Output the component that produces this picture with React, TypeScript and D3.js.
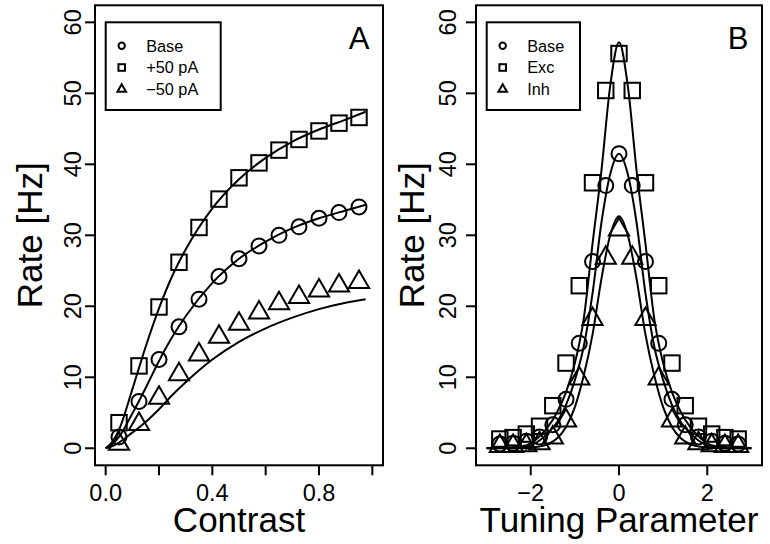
import React from "react";
import * as d3 from "d3";

// ---------- Panel A data ----------
const contrastPts = [0.05, 0.125, 0.2, 0.275, 0.35, 0.425, 0.5, 0.575, 0.65, 0.725, 0.8, 0.875, 0.95];
const baseA = [1.6, 6.6, 12.5, 17.1, 21.0, 24.2, 26.7, 28.5, 30.0, 31.2, 32.4, 33.2, 34.0];
const excA = [3.6, 11.6, 19.9, 26.2, 31.1, 35.1, 38.1, 40.2, 42.0, 43.5, 44.7, 45.8, 46.6];
const inhA = [0.6, 3.4, 7.1, 10.4, 13.2, 15.7, 17.5, 19.1, 20.4, 21.3, 22.2, 22.9, 23.4];

const contrastLine = [0, 0.025, 0.05, 0.1, 0.15, 0.2, 0.25, 0.3, 0.4, 0.5, 0.6, 0.7, 0.8, 0.9, 0.975];
const baseLineA = [0, 0.6, 1.6, 4.9, 8.5, 12.3, 15.7, 18.6, 23.3, 26.7, 29.1, 31.0, 32.4, 33.5, 34.3];
const excLineA = [0, 0.9, 2.6, 8.3, 14.3, 19.7, 24.3, 28.0, 33.8, 37.9, 40.9, 43.2, 44.9, 46.3, 47.4];
const inhLineA = [0, 0.3, 0.8, 2.2, 3.7, 5.5, 7.5, 9.3, 12.5, 15.0, 16.9, 18.4, 19.6, 20.5, 21.0];

const xTicksA = [0, 0.2, 0.4, 0.6, 0.8, 1.0];
const xLabelsA = ["0.0", "", "0.4", "", "0.8", ""];
const legendA = ["Base", "+50 pA", "\u221250 pA"];

// ---------- Panel B data ----------
const tuningPts = [-2.7, -2.4, -2.1, -1.8, -1.5, -1.2, -0.9, -0.6, -0.3, 0, 0.3, 0.6, 0.9, 1.2, 1.5, 1.8, 2.1, 2.4, 2.7];
const baseB = [0.6, 0.7, 1.0, 1.6, 3.3, 6.9, 14.8, 26.3, 37.0, 41.5, 37.0, 26.3, 14.8, 6.9, 3.3, 1.6, 1.0, 0.7, 0.6];
const excB = [1.3, 1.5, 2.0, 3.1, 6.0, 12.0, 22.9, 37.4, 50.4, 55.6, 50.4, 37.4, 22.9, 12.0, 6.0, 3.1, 2.0, 1.5, 1.3];
const inhB = [0.3, 0.3, 0.4, 0.7, 1.5, 3.9, 9.8, 18.2, 26.8, 30.8, 26.8, 18.2, 9.8, 3.9, 1.5, 0.7, 0.4, 0.3, 0.3];

const tuningLine = [-3, -2.6, -2.2, -2.0, -1.8, -1.6, -1.4, -1.2, -1.0, -0.8, -0.6, -0.4, -0.2, 0, 0.2, 0.4, 0.6, 0.8, 1.0, 1.2, 1.4, 1.6, 1.8, 2.0, 2.2, 2.6, 3];
const excLineB = [0.05, 0.1, 0.3, 0.7, 1.7, 3.1, 5.1, 7.9, 12.0, 18.2, 28.8, 39.0, 51.0, 57.2, 51.0, 39.0, 28.8, 18.2, 12.0, 7.9, 5.1, 3.1, 1.7, 0.7, 0.3, 0.1, 0.05];
const baseLineB = [0, 0.05, 0.15, 0.4, 1.1, 2.2, 3.7, 6.1, 9.6, 14.3, 21.8, 31.7, 38.6, 41.5, 38.6, 31.7, 21.8, 14.3, 9.6, 6.1, 3.7, 2.2, 1.1, 0.4, 0.15, 0.05, 0];
const inhLineB = [0, 0, 0.05, 0.1, 0.25, 0.6, 1.4, 3.0, 5.8, 10.2, 16.0, 23.8, 30.0, 32.7, 30.0, 23.8, 16.0, 10.2, 5.8, 3.0, 1.4, 0.6, 0.25, 0.1, 0.05, 0, 0];

const xTicksB = [-2, 0, 2];
const xLabelsB = ["\u22122", "0", "2"];
const legendB = ["Base", "Exc", "Inh"];

const yTicks = [0, 10, 20, 30, 40, 50, 60];

const FONT = "'Liberation Sans', Arial, Helvetica, sans-serif";
const SW = 2;
const TICK_FS = 23.5;

type Shape = "circle" | "square" | "triangle";

function Marker({ shape, x, y, r }: { shape: Shape; x: number; y: number; r: number }) {
  if (shape === "circle") {
    return <circle cx={x} cy={y} r={r} fill="none" stroke="#000" strokeWidth={SW} />;
  }
  if (shape === "square") {
    const h = r * 1.03;
    return <rect x={x - h} y={y - h} width={2 * h} height={2 * h} fill="none" stroke="#000" strokeWidth={SW} />;
  }
  const top = y - 1.555 * r;
  const bot = y + 0.778 * r;
  const hw = 1.3468 * r;
  return (
    <path
      d={`M${x},${top}L${x + hw},${bot}L${x - hw},${bot}Z`}
      fill="none"
      stroke="#000"
      strokeWidth={SW}
      strokeLinejoin="miter"
    />
  );
}

type PanelProps = {
  left: number;
  right: number;
  xDomain: [number, number];
  xTicks: number[];
  xLabels: string[];
  xTitle: string;
  letter: string;
  legend: string[];
  legendWidth: number;
  ptsX: number[];
  series: number[][];
  lineX: number[];
  lines: number[][];
  yTickLabelX: number;
  yTitleX: number;
};

const TOP = 5.3;
const BOTTOM = 465.3;
const shapes: Shape[] = ["circle", "square", "triangle"];

function Panel(p: PanelProps) {
  const x = d3.scaleLinear().domain(p.xDomain).range([p.left, p.right]);
  const y = d3.scaleLinear().domain([-2.4, 62.4]).range([BOTTOM, TOP]);
  const line = d3
    .line<[number, number]>()
    .x((d) => x(d[0]))
    .y((d) => y(d[1]))
    .curve(d3.curveMonotoneX);

  const legX = p.left + 10.7;
  const legY = 22.3;
  const legH = 87.7;
  const rowY = [45.8, 67.5, 89.2];

  return (
    <g>
      {p.lines.map((vals, i) => (
        <path
          key={"l" + i}
          d={line(p.lineX.map((xx, j) => [xx, vals[j]] as [number, number])) || ""}
          fill="none"
          stroke="#000"
          strokeWidth={SW}
        />
      ))}
      {p.series.map((vals, i) =>
        vals.map((v, j) => (
          <Marker key={`p${i}-${j}`} shape={shapes[i]} x={x(p.ptsX[j])} y={y(v)} r={7.5} />
        ))
      )}
      <rect
        x={p.left}
        y={TOP}
        width={p.right - p.left}
        height={BOTTOM - TOP}
        fill="none"
        stroke="#000"
        strokeWidth={SW}
      />
      {yTicks.map((t) => (
        <g key={"y" + t}>
          <line x1={p.left - 10} x2={p.left} y1={y(t)} y2={y(t)} stroke="#000" strokeWidth={SW} />
          <text
            transform={`translate(${p.yTickLabelX},${y(t)}) rotate(-90)`}
            textAnchor="middle"
            fontFamily={FONT}
            fontSize={TICK_FS}
          >
            {t}
          </text>
        </g>
      ))}
      <text
        transform={`translate(${p.yTitleX},${(TOP + BOTTOM) / 2}) rotate(-90)`}
        textAnchor="middle"
        fontFamily={FONT}
        fontSize={35}
      >
        Rate [Hz]
      </text>
      {p.xTicks.map((t, i) => (
        <g key={"x" + t}>
          <line x1={x(t)} x2={x(t)} y1={BOTTOM} y2={BOTTOM + 10} stroke="#000" strokeWidth={SW} />
          {p.xLabels[i] && (
            <text x={x(t)} y={501} textAnchor="middle" fontFamily={FONT} fontSize={TICK_FS}>
              {p.xLabels[i]}
            </text>
          )}
        </g>
      ))}
      <text
        x={(p.left + p.right) / 2}
        y={532}
        textAnchor="middle"
        fontFamily={FONT}
        fontSize={35}
      >
        {p.xTitle}
      </text>
      <text x={p.right - 13.5} y={49} textAnchor="end" fontFamily={FONT} fontSize={31}>
        {p.letter}
      </text>
      <rect x={legX} y={legY} width={p.legendWidth} height={legH} fill="#fff" stroke="#000" strokeWidth={SW} />
      {p.legend.map((lab, i) => (
        <g key={"lg" + i}>
          <Marker shape={shapes[i]} x={legX + 16} y={rowY[i]} r={3.2} />
          <text x={legX + 40.5} y={rowY[i] + 5.9} fontFamily={FONT} fontSize={16.3}>
            {lab}
          </text>
        </g>
      ))}
    </g>
  );
}

export default function App() {
  return (
    <svg
      width={770}
      height={544}
      viewBox="0 0 770 544"
      style={{ position: "absolute", left: 0, top: 0, background: "#fff" }}
    >
      <rect x={0} y={0} width={770} height={544} fill="#fff" />
      <Panel
        left={95}
        right={383}
        xDomain={[-0.04, 1.04]}
        xTicks={xTicksA}
        xLabels={xLabelsA}
        xTitle="Contrast"
        letter="A"
        legend={legendA}
        legendWidth={115}
        ptsX={contrastPts}
        series={[baseA, excA, inhA]}
        lineX={contrastLine}
        lines={[baseLineA, excLineA, inhLineA]}
        yTickLabelX={80.5}
        yTitleX={42}
      />
      <Panel
        left={476}
        right={762}
        xDomain={[-3.24, 3.24]}
        xTicks={xTicksB}
        xLabels={xLabelsB}
        xTitle="Tuning Parameter"
        letter="B"
        legend={legendB}
        legendWidth={93.3}
        ptsX={tuningPts}
        series={[baseB, excB, inhB]}
        lineX={tuningLine}
        lines={[baseLineB, excLineB, inhLineB]}
        yTickLabelX={456}
        yTitleX={424}
      />
    </svg>
  );
}
